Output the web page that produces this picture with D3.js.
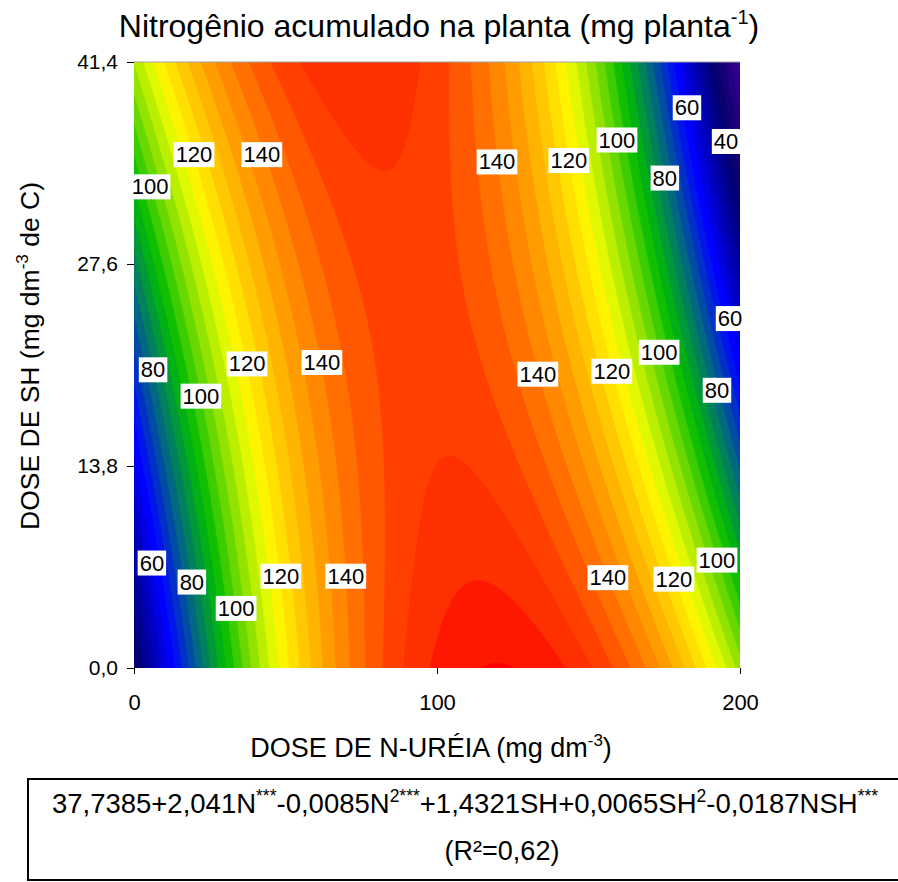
<!DOCTYPE html>
<html>
<head>
<meta charset="utf-8">
<script src="https://cdn.jsdelivr.net/npm/d3@7"></script>
<style>
  body { margin: 0; background: #fff; }
  text { font-family: "Liberation Sans", Arial, sans-serif; fill: #000; }
</style>
</head>
<body>
<script>
// fitted surface: intercept, N, N², SH, SH², N·SH
const coef = [37.7385, 2.041, -0.0085, 1.4321, 0.0065, -0.0187];
const doseN = [0, 200];
const doseSH = [0, 41.4];
const xTicks = [0, 100, 200];
const yTicks = [0, 13.8, 27.6, 41.4];

const levels = [20, 24, 28, 32, 36, 40, 44, 48, 52, 56, 60, 64, 68, 72, 76, 80, 84, 88,
  92, 96, 100, 104, 108, 112, 116, 120, 124, 128, 132, 136, 140, 144, 148, 152, 156, 160];
const levelColors = ["#3c0090", "#30008a", "#240080", "#160078", "#0a0070", "#000078",
  "#000090", "#0000a8", "#0000c4", "#0000e0", "#0000ff", "#0014ec",
  "#0030c8", "#004ca4", "#006880", "#00805c", "#009838", "#00b014",
  "#10c000", "#3ccc00", "#68d800", "#94e200", "#bcee00", "#e0f800",
  "#fff400", "#ffe000", "#ffc800", "#ffb400", "#ff9c00", "#ff8800",
  "#ff7000", "#ff5800", "#ff4000", "#ff3000", "#ff1800", "#ff0000"];

// contour labels: value, N, SH
const labelVal = [120, 140, 100, 60, 40, 140, 120, 100, 80, 60, 80, 120, 140, 100,
  140, 120, 100, 80, 60, 80, 120, 140, 100, 140, 120, 100];
const labelN = [19.8, 42.2, 5.3, 182.5, 195.4, 119.8, 143.5, 159.4, 175.2, 196.7, 6.3, 37.3, 62.0, 22.1,
  133.3, 157.7, 173.3, 192.4, 5.9, 19.1, 48.5, 69.9, 33.7, 156.4, 178.2, 192.4];
const labelSH = [35.1, 35.1, 32.9, 38.3, 36.0, 34.6, 34.7, 36.1, 33.5, 23.9, 20.4, 20.8, 20.9, 18.6,
  20.1, 20.3, 21.6, 19.0, 7.2, 5.9, 6.3, 6.3, 4.1, 6.2, 6.1, 7.4];

const width = 898, height = 882;
const svg = d3.select("body").append("svg")
  .attr("width", width)
  .attr("height", height);

const x = d3.scaleLinear().domain(doseN).range([134, 740]);
const y = d3.scaleLinear().domain(doseSH).range([668, 62]);

function surface(n, sh) {
  return coef[0] + coef[1] * n + coef[2] * n * n + coef[3] * sh + coef[4] * sh * sh + coef[5] * n * sh;
}

// sample the surface on a grid
const nx = 241, ny = 241;
const grid = new Array(nx * ny);
for (let j = 0; j < ny; j++) {
  for (let i = 0; i < nx; i++) {
    const n = doseN[0] + (doseN[1] - doseN[0]) * i / (nx - 1);
    const sh = doseSH[0] + (doseSH[1] - doseSH[0]) * j / (ny - 1);
    grid[j * nx + i] = surface(n, sh);
  }
}

const contours = d3.contours().size([nx, ny]).thresholds(levels)(grid);
const gx = d3.scaleLinear().domain([0.5, nx - 0.5]).range(x.range());
const gy = d3.scaleLinear().domain([0.5, ny - 0.5]).range(y.range());
const path = d3.geoPath(d3.geoTransform({
  point: function(px, py) { this.stream.point(gx(px), gy(py)); }
}));

svg.append("clipPath").attr("id", "plotclip")
  .append("rect")
  .attr("x", x(0)).attr("y", y(41.4))
  .attr("width", x(200) - x(0)).attr("height", y(0) - y(41.4));

svg.append("g")
  .attr("clip-path", "url(#plotclip)")
  .selectAll("path")
  .data(contours)
  .enter()
  .append("path")
  .attr("d", path)
  .attr("fill", (d, i) => levelColors[i])
  .attr("stroke", (d, i) => levelColors[i])
  .attr("stroke-width", 0.5);

// top frame line
svg.append("line")
  .attr("x1", x(0)).attr("x2", x(200))
  .attr("y1", y(41.4)).attr("y2", y(41.4))
  .attr("stroke", "#a0a0a0");

// contour labels
const lab = svg.append("g").selectAll("g")
  .data(labelVal)
  .enter()
  .append("g")
  .attr("transform", (d, i) => "translate(" + x(labelN[i]) + "," + y(labelSH[i]) + ")");

lab.append("text")
  .attr("text-anchor", "middle")
  .attr("dy", "0.36em")
  .style("font-size", "22px")
  .text(d => d);

lab.each(function() {
  const g = d3.select(this);
  const b = g.select("text").node().getBBox();
  g.insert("rect", "text")
    .attr("x", b.x - 2).attr("y", b.y)
    .attr("width", b.width + 4).attr("height", b.height)
    .attr("fill", "#fff");
});

// axes
const comma = d => d3.format(".1f")(d).replace(".", ",");
const yAxis = svg.append("g")
  .attr("transform", "translate(" + x(0) + ",0)")
  .call(d3.axisLeft(y).tickValues(yTicks).tickFormat(comma).tickSize(7).tickPadding(9));
yAxis.select(".domain").remove();
yAxis.selectAll("text").style("font-size", "21px").style("font-family", "'Liberation Sans', Arial, sans-serif");

const xAxis = svg.append("g")
  .attr("transform", "translate(0," + y(0) + ")")
  .call(d3.axisBottom(x).tickValues(xTicks).tickFormat(d3.format("d")).tickSize(6).tickPadding(20));
xAxis.select(".domain").remove();
xAxis.selectAll("text").style("font-size", "22px").style("font-family", "'Liberation Sans', Arial, sans-serif");

// title
const title = svg.append("text")
  .attr("x", 439).attr("y", 37)
  .attr("text-anchor", "middle")
  .style("font-size", "32px");
title.append("tspan").text("Nitrogênio acumulado na planta (mg planta");
title.append("tspan").attr("dy", -13).style("font-size", "20px").text("-1");
title.append("tspan").attr("dy", 13).text(")");

// axis titles
const xt = svg.append("text")
  .attr("x", 431).attr("y", 757)
  .attr("text-anchor", "middle")
  .style("font-size", "27px");
xt.append("tspan").text("DOSE DE N-URÉIA (mg dm");
xt.append("tspan").attr("dy", -11).style("font-size", "17px").text("-3");
xt.append("tspan").attr("dy", 11).text(")");

const yt = svg.append("text")
  .attr("transform", "translate(39,356) rotate(-90)")
  .attr("text-anchor", "middle")
  .style("font-size", "26.5px");
yt.append("tspan").text("DOSE DE SH (mg dm");
yt.append("tspan").attr("dy", -11).style("font-size", "17px").text("-3");
yt.append("tspan").attr("dy", 11).text(" de C)");

// equation box
svg.append("rect")
  .attr("x", 28).attr("y", 779)
  .attr("width", 880).attr("height", 101)
  .attr("fill", "none")
  .attr("stroke", "#000")
  .attr("stroke-width", 2);

const eq = svg.append("text")
  .attr("x", 465).attr("y", 813)
  .attr("text-anchor", "middle")
  .style("font-size", "27.5px");
const parts = [["37,7385+2,041N", 0], ["***", 1], ["-0,0085N", 0], ["2***", 1],
  ["+1,4321SH+0,0065SH", 0], ["2", 1], ["-0,0187NSH", 0], ["***", 1]];
let up = false;
parts.forEach(p => {
  const t = eq.append("tspan").text(p[0]);
  if (p[1] && !up) { t.attr("dy", -11).style("font-size", "17.5px"); up = true; }
  else if (p[1]) { t.style("font-size", "17.5px"); }
  else if (up) { t.attr("dy", 11); up = false; }
});

svg.append("text")
  .attr("x", 502).attr("y", 860)
  .attr("text-anchor", "middle")
  .style("font-size", "27px")
  .text("(R²=0,62)");
</script>
</body>
</html>
